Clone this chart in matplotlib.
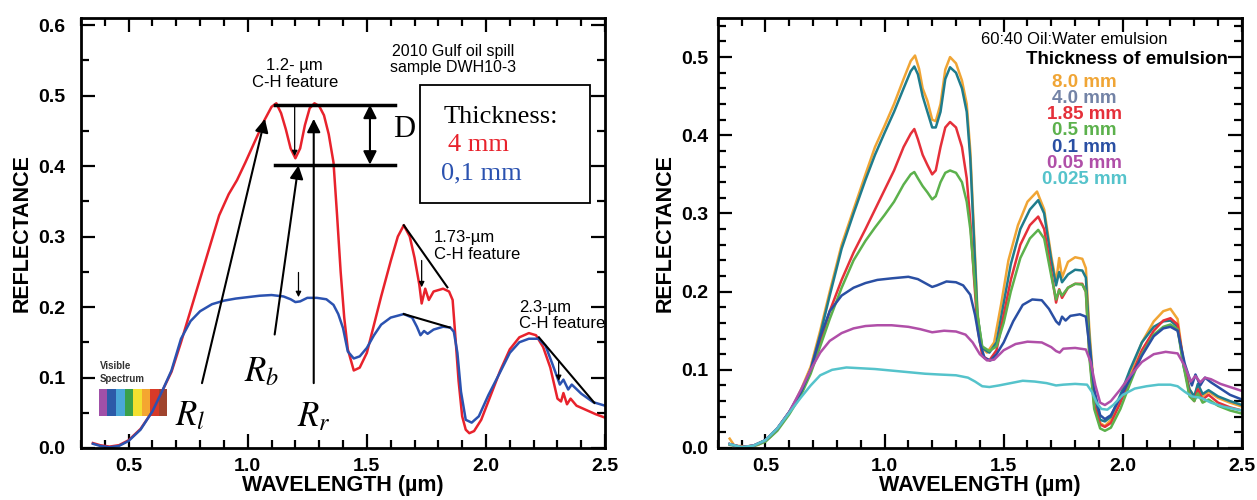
import numpy as np
import matplotlib
matplotlib.use("Agg")
import matplotlib.pyplot as plt
from matplotlib.ticker import MultipleLocator, FormatStrFormatter

# ---- left panel: DWH10-3 sample, two thicknesses ----
wl_4mm = [0.35, 0.38, 0.42, 0.46, 0.50, 0.55, 0.60, 0.64, 0.68, 0.72, 0.76, 0.80, 0.84, 0.88,
          0.92, 0.955, 0.99, 1.03, 1.07, 1.10, 1.12, 1.14, 1.16, 1.18, 1.20, 1.22, 1.24, 1.26,
          1.28, 1.30, 1.32, 1.34, 1.36, 1.375, 1.39, 1.405, 1.42, 1.445, 1.47, 1.50, 1.53, 1.56,
          1.60, 1.63, 1.655, 1.68, 1.70, 1.72, 1.73, 1.745, 1.76, 1.78, 1.82, 1.845, 1.86, 1.87,
          1.885, 1.90, 1.915, 1.93, 1.95, 1.98, 2.02, 2.06, 2.10, 2.14, 2.18, 2.21, 2.24, 2.27,
          2.30, 2.315, 2.325, 2.34, 2.355, 2.38, 2.42, 2.46, 2.50]
r_4mm = [0.007, 0.004, 0.002, 0.004, 0.011, 0.027, 0.052, 0.080, 0.108, 0.150, 0.195, 0.240, 0.285,
         0.330, 0.360, 0.380, 0.405, 0.435, 0.465, 0.484, 0.489, 0.475, 0.452, 0.425, 0.411, 0.425,
         0.458, 0.482, 0.489, 0.485, 0.472, 0.445, 0.405, 0.330, 0.250, 0.185, 0.140, 0.110, 0.114,
         0.135, 0.175, 0.215, 0.265, 0.300, 0.316, 0.300, 0.270, 0.232, 0.205, 0.226, 0.210, 0.222,
         0.226, 0.222, 0.210, 0.165, 0.095, 0.045, 0.026, 0.021, 0.024, 0.040, 0.075, 0.110, 0.140,
         0.157, 0.163, 0.160, 0.143, 0.114, 0.070, 0.066, 0.078, 0.062, 0.070, 0.060, 0.054, 0.048,
         0.043]

wl_01mm = [0.35, 0.38, 0.42, 0.46, 0.50, 0.55, 0.60, 0.64, 0.68, 0.72, 0.76, 0.80, 0.85, 0.90,
           0.95, 1.00, 1.05, 1.10, 1.15, 1.18, 1.20, 1.22, 1.25, 1.29, 1.33, 1.36, 1.38, 1.40, 1.42,
           1.445, 1.47, 1.50, 1.53, 1.56, 1.60, 1.655, 1.69, 1.71, 1.725, 1.74, 1.755, 1.78, 1.82,
           1.85, 1.865, 1.88, 1.895, 1.915, 1.94, 1.97, 2.01, 2.06, 2.10, 2.14, 2.18, 2.22, 2.25,
           2.28, 2.31, 2.325, 2.345, 2.36, 2.40, 2.45, 2.50]
r_01mm = [0.006, 0.003, 0.001, 0.003, 0.010, 0.026, 0.052, 0.080, 0.110, 0.155, 0.180, 0.194, 0.204,
          0.209, 0.212, 0.214, 0.216, 0.217, 0.215, 0.211, 0.207, 0.208, 0.213, 0.213, 0.211, 0.203,
          0.190, 0.170, 0.137, 0.127, 0.130, 0.142, 0.160, 0.175, 0.185, 0.190, 0.185, 0.172, 0.160,
          0.166, 0.162, 0.168, 0.172, 0.171, 0.165, 0.135, 0.080, 0.040, 0.036, 0.045, 0.075, 0.108,
          0.135, 0.150, 0.155, 0.155, 0.145, 0.118, 0.090, 0.097, 0.083, 0.090, 0.077, 0.065, 0.060]

spectrum_colors = ['#a050a8', '#2c5aa8', '#4aa8d8', '#3aa04a', '#f2e030', '#f4a630', '#d83a28',
                   '#a0442e']

# ---- right panel: 60:40 oil/water emulsion ----
wl_8mm = [0.35, 0.37, 0.42, 0.47, 0.52, 0.57, 0.61, 0.65, 0.69, 0.73, 0.77, 0.82, 0.87, 0.92, 0.96,
          1.00, 1.04, 1.08, 1.11, 1.128, 1.145, 1.16, 1.18, 1.20, 1.215, 1.235, 1.255, 1.275, 1.30,
          1.325, 1.345, 1.36, 1.375, 1.39, 1.405, 1.43, 1.46, 1.49, 1.52, 1.56, 1.60, 1.64, 1.67,
          1.70, 1.72, 1.733, 1.745, 1.77, 1.80, 1.83, 1.845, 1.86, 1.88, 1.905, 1.925, 1.95, 1.99,
          2.03, 2.08, 2.13, 2.17, 2.20, 2.23, 2.255, 2.28, 2.30, 2.315, 2.335, 2.36, 2.40, 2.45, 2.50]
r_8mm = [0.012, 0.003, 0.002, 0.004, 0.014, 0.032, 0.050, 0.075, 0.104, 0.150, 0.200, 0.260, 0.305,
         0.350, 0.385, 0.412, 0.440, 0.472, 0.495, 0.502, 0.485, 0.460, 0.444, 0.420, 0.418, 0.440,
         0.484, 0.500, 0.492, 0.470, 0.440, 0.380, 0.280, 0.175, 0.130, 0.122, 0.135, 0.185, 0.240,
         0.285, 0.315, 0.328, 0.305, 0.245, 0.212, 0.243, 0.218, 0.238, 0.244, 0.242, 0.230, 0.150,
         0.070, 0.032, 0.028, 0.036, 0.065, 0.095, 0.135, 0.162, 0.175, 0.178, 0.165, 0.110, 0.075,
         0.065, 0.080, 0.066, 0.072, 0.064, 0.058, 0.053]

wl_emul = [0.35, 0.40, 0.45, 0.50, 0.55, 0.60, 0.65, 0.69, 0.73, 0.77, 0.82, 0.87, 0.92, 0.96, 1.00,
           1.04, 1.08, 1.11, 1.125, 1.14, 1.16, 1.18, 1.20, 1.215, 1.235, 1.255, 1.275, 1.30, 1.325,
           1.345, 1.36, 1.375, 1.39, 1.41, 1.44, 1.47, 1.50, 1.53, 1.57, 1.61, 1.645, 1.67, 1.70,
           1.72, 1.733, 1.745, 1.77, 1.80, 1.83, 1.845, 1.86, 1.88, 1.905, 1.925, 1.95, 1.99, 2.03,
           2.08, 2.13, 2.17, 2.20, 2.23, 2.255, 2.28, 2.30, 2.315, 2.335, 2.36, 2.40, 2.45, 2.50]
r_4p0mm = [0.005, 0.001, 0.003, 0.010, 0.025, 0.046, 0.072, 0.100, 0.145, 0.195, 0.255, 0.300, 0.343,
           0.375, 0.403, 0.430, 0.460, 0.482, 0.488, 0.478, 0.450, 0.430, 0.410, 0.410, 0.430, 0.472,
           0.487, 0.480, 0.460, 0.430, 0.370, 0.270, 0.170, 0.128, 0.122, 0.135, 0.185, 0.235, 0.280,
           0.305, 0.317, 0.300, 0.240, 0.208, 0.225, 0.212, 0.222, 0.228, 0.227, 0.218, 0.140, 0.068,
           0.036, 0.034, 0.040, 0.068, 0.100, 0.135, 0.155, 0.162, 0.163, 0.155, 0.105, 0.075, 0.066,
           0.082, 0.069, 0.074, 0.066, 0.060, 0.055]
r_1p85mm = [0.005, 0.001, 0.003, 0.009, 0.024, 0.045, 0.070, 0.098, 0.135, 0.175, 0.215, 0.250, 0.280,
            0.305, 0.330, 0.355, 0.385, 0.402, 0.408, 0.395, 0.375, 0.362, 0.350, 0.355, 0.385, 0.410,
            0.417, 0.410, 0.385, 0.345, 0.290, 0.220, 0.155, 0.118, 0.112, 0.125, 0.170, 0.215, 0.260,
            0.285, 0.296, 0.280, 0.225, 0.186, 0.203, 0.192, 0.205, 0.210, 0.210, 0.200, 0.120, 0.055,
            0.030, 0.027, 0.032, 0.058, 0.088, 0.125, 0.150, 0.163, 0.166, 0.158, 0.110, 0.068, 0.060,
            0.075, 0.062, 0.068, 0.058, 0.052, 0.048]
r_0p5mm = [0.004, 0.001, 0.002, 0.008, 0.022, 0.043, 0.068, 0.095, 0.130, 0.165, 0.205, 0.240, 0.265,
           0.282, 0.298, 0.315, 0.337, 0.350, 0.353, 0.345, 0.335, 0.327, 0.318, 0.322, 0.340, 0.352,
           0.355, 0.352, 0.340, 0.315, 0.280, 0.225, 0.170, 0.130, 0.124, 0.130, 0.160, 0.200, 0.243,
           0.268, 0.279, 0.268, 0.220, 0.190, 0.202, 0.195, 0.205, 0.210, 0.209, 0.200, 0.115, 0.050,
           0.025, 0.022, 0.026, 0.050, 0.082, 0.120, 0.145, 0.155, 0.158, 0.152, 0.105, 0.066, 0.060,
           0.070, 0.058, 0.062, 0.054, 0.048, 0.044]

wl_thin = [0.35, 0.40, 0.45, 0.50, 0.55, 0.60, 0.65, 0.69, 0.73, 0.77, 0.82, 0.87, 0.92, 0.97, 1.03,
           1.10, 1.14, 1.17, 1.20, 1.22, 1.26, 1.30, 1.33, 1.36, 1.38, 1.40, 1.42, 1.445, 1.47, 1.50,
           1.54, 1.58, 1.62, 1.66, 1.69, 1.72, 1.733, 1.745, 1.76, 1.78, 1.82, 1.845, 1.86, 1.88,
           1.905, 1.925, 1.95, 1.99, 2.03, 2.08, 2.13, 2.17, 2.20, 2.23, 2.26, 2.29, 2.305, 2.325,
           2.345, 2.37, 2.41, 2.45, 2.50]
r_0p1mm = [0.005, 0.001, 0.003, 0.010, 0.025, 0.046, 0.072, 0.100, 0.142, 0.175, 0.195, 0.205, 0.211,
           0.215, 0.217, 0.219, 0.216, 0.211, 0.206, 0.208, 0.213, 0.212, 0.208, 0.196, 0.170, 0.135,
           0.115, 0.112, 0.120, 0.135, 0.162, 0.183, 0.190, 0.189, 0.178, 0.162, 0.158, 0.168, 0.163,
           0.169, 0.171, 0.168, 0.130, 0.075, 0.042, 0.037, 0.042, 0.065, 0.088, 0.118, 0.143, 0.153,
           0.155, 0.150, 0.108, 0.080, 0.094, 0.080, 0.090, 0.084, 0.076, 0.068, 0.062]

wl_flat = [0.35, 0.40, 0.45, 0.50, 0.55, 0.60, 0.65, 0.69, 0.73, 0.77, 0.82, 0.87, 0.92, 0.97, 1.03,
           1.10, 1.15, 1.20, 1.25, 1.30, 1.34, 1.37, 1.40, 1.43, 1.46, 1.50, 1.55, 1.60, 1.66, 1.70,
           1.72, 1.735, 1.75, 1.80, 1.845, 1.865, 1.885, 1.905, 1.925, 1.95, 1.99, 2.03, 2.08, 2.13,
           2.18, 2.23, 2.26, 2.285, 2.305, 2.325, 2.345, 2.37, 2.41, 2.45, 2.50]
r_0p05mm = [0.005, 0.001, 0.003, 0.010, 0.025, 0.046, 0.075, 0.100, 0.122, 0.137, 0.147, 0.153, 0.156,
            0.157, 0.157, 0.155, 0.152, 0.148, 0.150, 0.149, 0.145, 0.135, 0.120, 0.112, 0.113, 0.125,
            0.133, 0.136, 0.135, 0.129, 0.124, 0.122, 0.127, 0.128, 0.126, 0.110, 0.080, 0.058, 0.055,
            0.060, 0.075, 0.092, 0.110, 0.120, 0.123, 0.121, 0.105, 0.085, 0.092, 0.084, 0.090, 0.088,
            0.082, 0.078, 0.073]

wl_025 = [0.35, 0.40, 0.45, 0.50, 0.55, 0.60, 0.65, 0.69, 0.73, 0.78, 0.84, 0.90, 0.96, 1.03, 1.10,
          1.17, 1.23, 1.30, 1.35, 1.38, 1.41, 1.44, 1.48, 1.53, 1.58, 1.63, 1.68, 1.72, 1.75, 1.80,
          1.85, 1.87, 1.89, 1.91, 1.935, 1.96, 2.00, 2.05, 2.10, 2.15, 2.20, 2.23, 2.26, 2.29, 2.33,
          2.37, 2.42, 2.50]
r_0p025mm = [0.005, 0.001, 0.003, 0.010, 0.025, 0.045, 0.065, 0.080, 0.093, 0.100, 0.103, 0.102,
             0.101, 0.099, 0.097, 0.095, 0.094, 0.093, 0.090, 0.085, 0.079, 0.078, 0.080, 0.083,
             0.086, 0.085, 0.083, 0.080, 0.081, 0.082, 0.081, 0.072, 0.058, 0.050, 0.049, 0.055,
             0.068, 0.076, 0.079, 0.081, 0.081, 0.079, 0.072, 0.066, 0.064, 0.058, 0.053, 0.048]

emul_labels = ['8.0 mm', '4.0 mm', '1.85 mm', '0.5 mm', '0.1 mm', '0.05 mm', '0.025 mm']
emul_wl = [wl_8mm, wl_emul, wl_emul, wl_emul, wl_thin, wl_flat, wl_025]
emul_r = [r_8mm, r_4p0mm, r_1p85mm, r_0p5mm, r_0p1mm, r_0p05mm, r_0p025mm]
emul_line_colors = ['#f0a535', '#1f7c8c', '#e5303a', '#5cb14c', '#2a4fa3', '#b04fa8', '#55c3cb']
emul_text_colors = ['#f0a535', '#7383a6', '#e5303a', '#5cb14c', '#2a4fa3', '#b04fa8', '#55c3cb']

plt.rcParams['font.family'] = ['Liberation Sans', 'DejaVu Sans']
plt.rcParams['mathtext.fontset'] = 'stix'

RED = '#e8222c'
BLUE = '#2b52b0'


def style_axes(ax, ytop, yminor, ypad):
    ax.set_xlim(0.3, 2.5)
    ax.set_ylim(0.0, ytop)
    ax.xaxis.set_major_locator(MultipleLocator(0.5))
    ax.xaxis.set_minor_locator(MultipleLocator(0.1))
    ax.yaxis.set_major_locator(MultipleLocator(0.1))
    ax.yaxis.set_minor_locator(MultipleLocator(yminor))
    ax.xaxis.set_major_formatter(FormatStrFormatter('%.1f'))
    ax.yaxis.set_major_formatter(FormatStrFormatter('%.1f'))
    ax.tick_params(which='both', direction='in', top=True, right=True, width=1.6)
    ax.tick_params(which='major', length=10, labelsize=14)
    ax.tick_params(which='minor', length=6)
    ax.tick_params(axis='x', which='major', pad=7)
    ax.tick_params(axis='y', which='major', pad=ypad)
    for lab in ax.get_xticklabels() + ax.get_yticklabels():
        lab.set_fontweight('bold')
    for sp in ax.spines.values():
        sp.set_linewidth(2)
    ax.set_xlabel('WAVELENGTH (µm)', fontsize=15.5, fontweight='bold', labelpad=0)
    ax.set_ylabel('REFLECTANCE', fontsize=15.5, fontweight='bold', labelpad=4)


fig = plt.figure(figsize=(12.57, 5.0), dpi=100)
axl = fig.add_axes([0.0644, 0.104, 0.417, 0.86])
axr = fig.add_axes([0.571, 0.104, 0.417, 0.86])

# ---------- left ----------
axl.plot(wl_4mm, r_4mm, color=RED, lw=1.8)
axl.plot(wl_01mm, r_01mm, color=BLUE, lw=1.8)
style_axes(axl, 0.61, 0.05, 11)

arrow = dict(arrowstyle='-|>', color='black', lw=1.5, mutation_scale=20, shrinkA=0, shrinkB=0)
thin = dict(arrowstyle='-|>', color='black', lw=0.9, mutation_scale=8, shrinkA=0, shrinkB=0)

# D bracket
axl.plot([1.113, 1.62], [0.487, 0.487], color='black', lw=2.5)
axl.plot([1.113, 1.62], [0.402, 0.402], color='black', lw=2.5)
axl.annotate('', xy=(1.513, 0.487), xytext=(1.513, 0.402),
             arrowprops=dict(arrowstyle='<|-|>', color='black', lw=1.5, mutation_scale=20,
                             shrinkA=0, shrinkB=0))
axl.text(1.656, 0.452, 'D', fontsize=22, family='Liberation Serif', va='center', ha='center')
axl.annotate('', xy=(1.197, 0.414), xytext=(1.197, 0.487), arrowprops=thin)

# R arrows
axl.annotate('', xy=(1.072, 0.467), xytext=(0.808, 0.092), arrowprops=arrow)
axl.annotate('', xy=(1.213, 0.401), xytext=(1.113, 0.161), arrowprops=arrow)
axl.annotate('', xy=(1.277, 0.467), xytext=(1.277, 0.092), arrowprops=arrow)
axl.text(0.76, 0.046, r'$R_l$', fontsize=25, ha='center', va='center')
axl.text(1.058, 0.108, r'$R_b$', fontsize=25, ha='center', va='center')
axl.text(1.278, 0.044, r'$R_r$', fontsize=25, ha='center', va='center')

axl.text(1.197, 0.530, '1.2- µm\nC-H feature', fontsize=12, ha='center', va='center',
         linespacing=1.15)
axl.text(1.86, 0.551, '2010 Gulf oil spill\nsample DWH10-3', fontsize=11.5, ha='center',
         va='center', linespacing=1.15)

# thickness box
axl.add_patch(plt.Rectangle((1.722, 0.347), 0.716, 0.168, fill=False, edgecolor='black',
                            lw=1.3))
axl.text(1.822, 0.470, 'Thickness:', fontsize=19, family='Liberation Serif', va='center')
axl.text(1.840, 0.430, '4 mm', fontsize=19, family='Liberation Serif', va='center', color=RED)
axl.text(1.812, 0.390, '0,1 mm', fontsize=19, family='Liberation Serif', va='center',
         color=BLUE)

# 1.73 feature
axl.plot([1.655, 1.838], [0.316, 0.228], color='black', lw=1.5)
axl.plot([1.655, 1.847], [0.190, 0.171], color='black', lw=1.5)
axl.annotate('', xy=(1.73, 0.228), xytext=(1.73, 0.266), arrowprops=thin)
axl.annotate('', xy=(1.213, 0.214), xytext=(1.213, 0.249), arrowprops=thin)
axl.text(1.782, 0.287, '1.73-µm\nC-H feature', fontsize=12, ha='left', va='center',
         linespacing=1.15)

# 2.3 feature
axl.plot([2.222, 2.455], [0.157, 0.064], color='black', lw=1.5)
axl.annotate('', xy=(2.305, 0.095), xytext=(2.305, 0.124), arrowprops=thin)
axl.text(2.14, 0.188, '2.3-µm\nC-H feature', fontsize=12, ha='left', va='center',
         linespacing=1.15)

# visible spectrum swatch
seg = (0.663 - 0.375) / len(spectrum_colors)
left_edges = 0.375 + seg * np.arange(len(spectrum_colors))
axl.bar(left_edges, 0.038, width=seg, bottom=0.045, align='edge', color=spectrum_colors,
        edgecolor='none', zorder=1)
axl.text(0.378, 0.107, 'Visible\nSpectrum', fontsize=7, fontweight='bold', color='#333333',
         ha='left', va='center', linespacing=1.3)

# ---------- right ----------
for wl, r, c in zip(emul_wl, emul_r, emul_line_colors):
    axr.plot(wl, r, color=c, lw=1.8)
style_axes(axr, 0.55, 0.02, 7)

axr.text(1.405, 0.523, '60:40 Oil:Water emulsion', fontsize=12, ha='left', va='center')
axr.text(2.44, 0.497, 'Thickness of emulsion', fontsize=13.5, fontweight='bold', ha='right',
         va='center')
for k, (lab, c) in enumerate(zip(emul_labels, emul_text_colors)):
    axr.text(1.84, 0.467 - 0.0205 * k, lab, fontsize=13.5, fontweight='bold', color=c,
             ha='center', va='center')

fig.savefig('out.png', dpi=100)
